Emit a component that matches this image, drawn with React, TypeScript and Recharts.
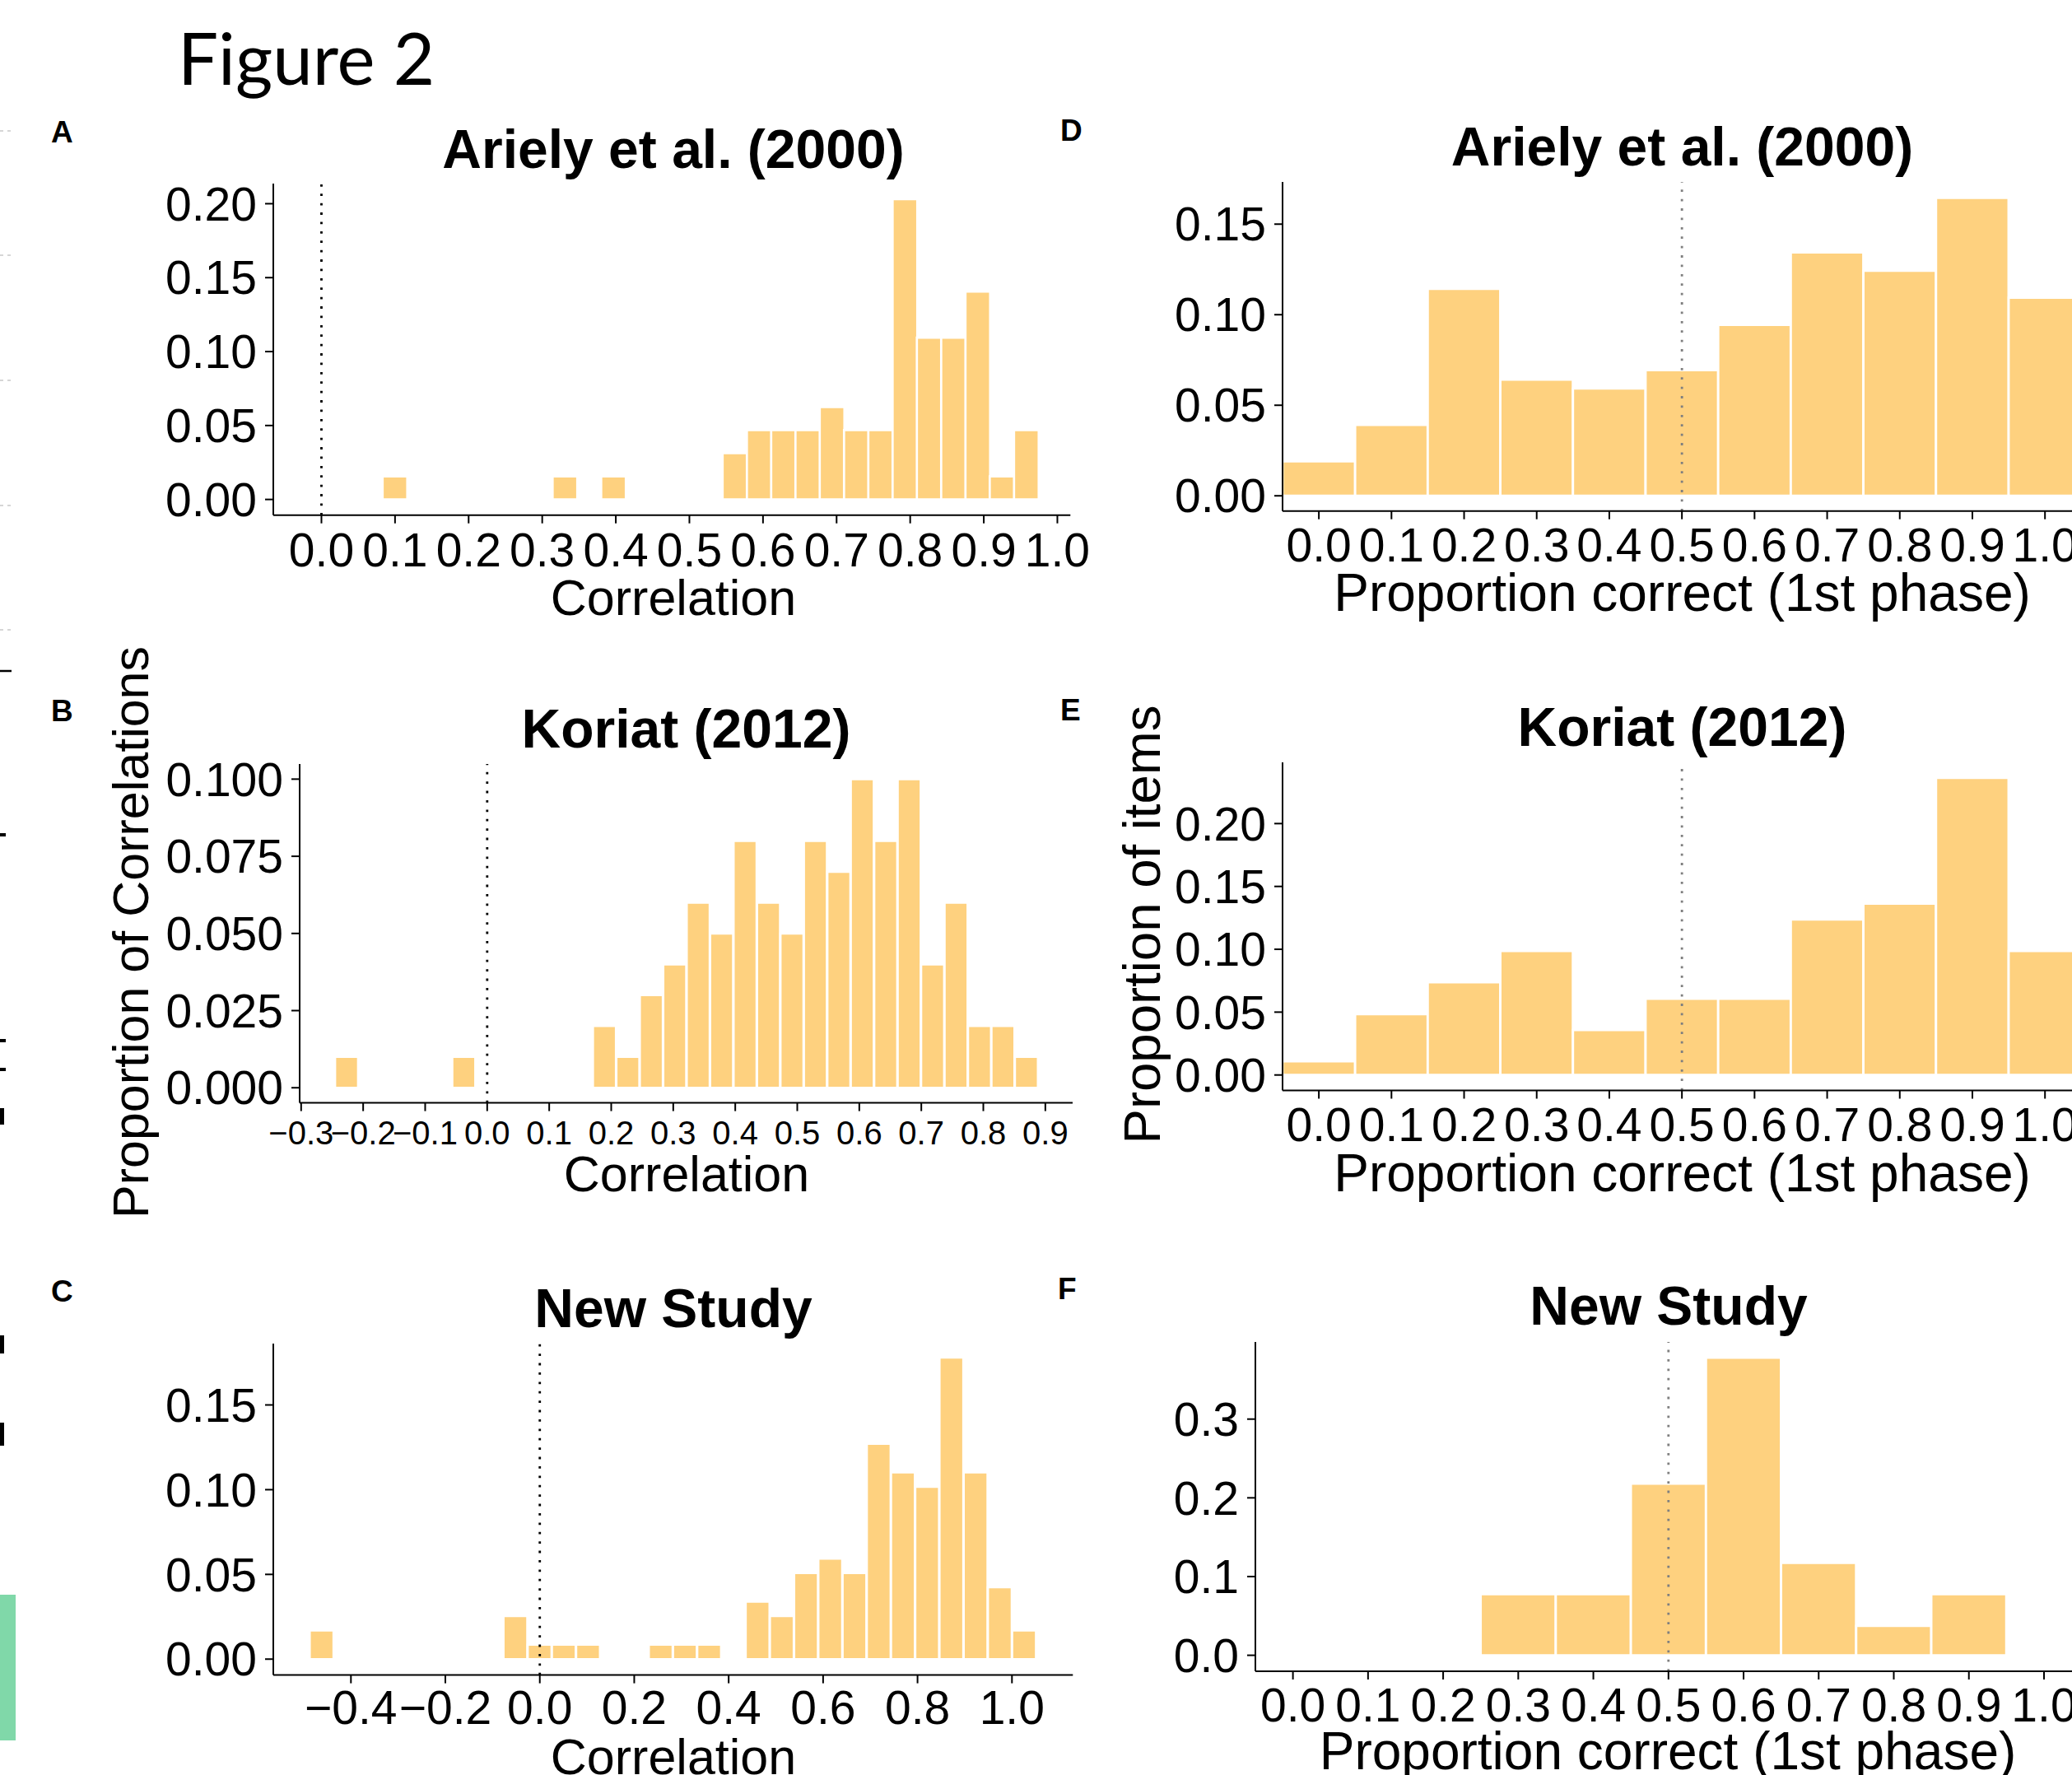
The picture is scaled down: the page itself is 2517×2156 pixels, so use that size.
import React from 'react';
import { BarChart, Bar, XAxis, YAxis, ReferenceLine } from 'recharts';

const FONT = '"Liberation Sans", Arial, Helvetica, sans-serif';
const BAR_FILL = '#FED17F';

// ---------- Panel A : Ariely et al. (2000) – correlations ----------
const aBins = [0.0996, 0.3306, 0.3966, 0.5616, 0.5946, 0.6276, 0.6606, 0.6936, 0.7266, 0.7596, 0.7926, 0.8256, 0.8586, 0.8916, 0.9246, 0.9576];
const aProps = [0.0156, 0.0156, 0.0156, 0.0313, 0.0469, 0.0469, 0.0469, 0.0625, 0.0469, 0.0469, 0.2031, 0.1094, 0.1094, 0.1406, 0.0156, 0.0469];
const aXTicks = [0, 0.1, 0.2, 0.3, 0.4, 0.5, 0.6, 0.7, 0.8, 0.9, 1.0];
const aYTicks = [0, 0.05, 0.1, 0.15, 0.2];

// ---------- Panel B : Koriat (2012) – correlations ----------
const bBins = [-0.2264, -0.0374, 0.1894, 0.2272, 0.265, 0.3028, 0.3406, 0.3784, 0.4162, 0.454, 0.4918, 0.5296, 0.5674, 0.6052, 0.643, 0.6808, 0.7186, 0.7564, 0.7942, 0.832, 0.8698];
const bProps = [0.01, 0.01, 0.02, 0.01, 0.03, 0.04, 0.06, 0.05, 0.08, 0.06, 0.05, 0.08, 0.07, 0.1, 0.08, 0.1, 0.04, 0.06, 0.02, 0.02, 0.01];
const bXTicks = [-0.3, -0.2, -0.1, 0, 0.1, 0.2, 0.3, 0.4, 0.5, 0.6, 0.7, 0.8, 0.9];
const bYTicks = [0, 0.025, 0.05, 0.075, 0.1];

// ---------- Panel C : New Study – correlations ----------
const cBins = [-0.4617, -0.0513, 0, 0.0513, 0.1026, 0.2565, 0.3078, 0.3591, 0.4617, 0.513, 0.5643, 0.6156, 0.6669, 0.7182, 0.7695, 0.8208, 0.8721, 0.9234, 0.9747, 1.026];
const cProps = [0.0169, 0.0254, 0.0085, 0.0085, 0.0085, 0.0085, 0.0085, 0.0085, 0.0339, 0.0254, 0.0508, 0.0593, 0.0508, 0.1271, 0.1102, 0.1017, 0.178, 0.1102, 0.0424, 0.0169];
const cXTicks = [-0.4, -0.2, 0, 0.2, 0.4, 0.6, 0.8, 1.0];
const cYTicks = [0, 0.05, 0.1, 0.15];

// ---------- Panel D : Ariely et al. (2000) – proportion correct ----------
const dBins = [0, 0.1, 0.2, 0.3, 0.4, 0.5, 0.6, 0.7, 0.8, 0.9, 1.0];
const dProps = [0.019, 0.0391, 0.1143, 0.0641, 0.0592, 0.0694, 0.0944, 0.1344, 0.1243, 0.1645, 0.1094];
const dXTicks = [0, 0.1, 0.2, 0.3, 0.4, 0.5, 0.6, 0.7, 0.8, 0.9, 1.0];
const dYTicks = [0, 0.05, 0.1, 0.15];

// ---------- Panel E : Koriat (2012) – proportion correct ----------
const eBins = [0, 0.1, 0.2, 0.3, 0.4, 0.5, 0.6, 0.7, 0.8, 0.9, 1.0];
const eProps = [0.0108, 0.0484, 0.0737, 0.0986, 0.0358, 0.0607, 0.0607, 0.1236, 0.1362, 0.2364, 0.0986];
const eXTicks = [0, 0.1, 0.2, 0.3, 0.4, 0.5, 0.6, 0.7, 0.8, 0.9, 1.0];
const eYTicks = [0, 0.05, 0.1, 0.15, 0.2];

// ---------- Panel F : New Study – proportion correct ----------
const fBins = [0.3, 0.4, 0.5, 0.6, 0.7, 0.8, 0.9];
const fProps = [0.0776, 0.0776, 0.2179, 0.378, 0.1173, 0.0374, 0.0776];
const fXTicks = [0, 0.1, 0.2, 0.3, 0.4, 0.5, 0.6, 0.7, 0.8, 0.9, 1.0];
const fYTicks = [0, 0.1, 0.2, 0.3];

const fmt = (d: number) => (v: number) => {
  const s = Math.abs(v) < 1e-9 ? (0).toFixed(d) : v.toFixed(d);
  return s.replace('-', '\u2212');
};

type PanelProps = {
  bins: number[];
  props: number[];
  xDomain: [number, number];
  yDomain: [number, number];
  xTicks: number[];
  yTicks: number[];
  xDec: number;
  yDec: number;
  left: number;
  top: number;
  bottom: number;
  right: number;
  refX: number;
  refColor: string;
  xTickSize: number;
  xTickMargin: number;
};

function Panel(p: PanelProps) {
  const yw = 220;
  const xh = 110;
  const mt = 40;
  const mr = 80;
  const width = p.right - p.left + yw + mr;
  const height = p.bottom - p.top + xh + mt;
  const data = p.bins.map((x, i) => ({ x, prop: p.props[i] }));
  const axisStyle = { stroke: '#000', strokeWidth: 2 };
  return (
    <div style={{ position: 'absolute', left: p.left - yw, top: p.top - mt, width, height }}>
      <BarChart
        width={width}
        height={height}
        data={data}
        margin={{ top: mt, right: mr, bottom: 0, left: 0 }}
        barCategoryGap={0}
        barGap={0}
      >
        <XAxis
          dataKey="x"
          type="number"
          domain={p.xDomain}
          allowDataOverflow
          ticks={p.xTicks}
          interval={0}
          tickFormatter={fmt(p.xDec)}
          height={xh}
          axisLine={axisStyle}
          tickLine={axisStyle}
          tickSize={10}
          tickMargin={p.xTickMargin}
          tick={{ fill: '#000', fontSize: p.xTickSize, fontFamily: FONT }}
        />
        <YAxis
          type="number"
          domain={p.yDomain}
          allowDataOverflow
          ticks={p.yTicks}
          interval={0}
          tickFormatter={fmt(p.yDec)}
          width={yw}
          axisLine={axisStyle}
          tickLine={axisStyle}
          tickSize={10}
          tickMargin={10}
          tick={{ fill: '#000', fontSize: 57, fontFamily: FONT }}
        />
        <Bar dataKey="prop" fill={BAR_FILL} stroke="#fff" strokeWidth={2.7} isAnimationActive={false} />
        <ReferenceLine x={p.refX} stroke={p.refColor} strokeWidth={2.8} strokeDasharray="2.8 8.6" />
      </BarChart>
    </div>
  );
}

export default function App() {
  const titleStyle = { fontFamily: FONT, fontWeight: 700 as const, fontSize: 66, fill: '#000' };
  const axisTitle = { fontFamily: FONT, fontSize: 61, fill: '#000' };
  const letter = { fontFamily: FONT, fontWeight: 700 as const, fontSize: 37, fill: '#000' };
  return (
    <div style={{ position: 'fixed', left: 0, top: 0, width: 2517, height: 2156, overflow: 'hidden', background: '#fff' }}>
      <Panel bins={aBins} props={aProps} xDomain={[-0.0654, 1.0177]} yDomain={[-0.0106, 0.2136]}
        xTicks={aXTicks} yTicks={aYTicks} xDec={1} yDec={2}
        left={331.7} top={223.3} bottom={626} right={1300} refX={0} refColor="#000" xTickSize={57} xTickMargin={12} />
      <Panel bins={bBins} props={bProps} xDomain={[-0.3024, 0.944]} yDomain={[-0.0049, 0.1049]}
        xTicks={bXTicks} yTicks={bYTicks} xDec={1} yDec={3}
        left={364} top={928.4} bottom={1340} right={1303} refX={0} refColor="#000" xTickSize={40} xTickMargin={12} />
      <Panel bins={cBins} props={cProps} xDomain={[-0.5644, 1.129]} yDomain={[-0.0094, 0.1862]}
        xTicks={cXTicks} yTicks={cYTicks} xDec={1} yDec={2}
        left={331.7} top={1631.7} bottom={2034.3} right={1303} refX={0} refColor="#000" xTickSize={57} xTickMargin={9} />
      <Panel bins={dBins} props={dProps} xDomain={[-0.05, 1.05]} yDomain={[-0.0084, 0.1733]}
        xTicks={dXTicks} yTicks={dYTicks} xDec={1} yDec={2}
        left={1558.3} top={221} bottom={620.7} right={2528.6} refX={0.5} refColor="#7f7f7f" xTickSize={57} xTickMargin={11} />
      <Panel bins={eBins} props={eProps} xDomain={[-0.05, 1.05]} yDomain={[-0.0123, 0.2487]}
        xTicks={eXTicks} yTicks={eYTicks} xDec={1} yDec={2}
        left={1558.3} top={926.1} bottom={1324.6} right={2528.6} refX={0.5} refColor="#7f7f7f" xTickSize={57} xTickMargin={11} />
      <Panel bins={fBins} props={fProps} xDomain={[-0.05, 1.05]} yDomain={[-0.0203, 0.398]}
        xTicks={fXTicks} yTicks={fYTicks} xDec={1} yDec={1}
        left={1525.3} top={1629.6} bottom={2029.6} right={2528.9} refX={0.5} refColor="#7f7f7f" xTickSize={57} xTickMargin={11} />

      <svg width={2517} height={2156} style={{ position: 'absolute', left: 0, top: 0, pointerEvents: 'none' }}>
        {/* left-edge fragments of the page */}
        {[159, 310, 462, 614, 765].map((y) => (
          <g key={y}>
            <line x1={0} x2={4} y1={y} y2={y} stroke="#c8c8c8" strokeWidth={1.5} />
            <line x1={9} x2={13} y1={y} y2={y} stroke="#c8c8c8" strokeWidth={1.5} />
          </g>
        ))}
        <line x1={0} x2={14} y1={815} y2={815} stroke="#000" strokeWidth={2.5} />
        <rect x={0} y={1012} width={7} height={4} fill="#000" />
        <rect x={0} y={1262} width={7} height={4} fill="#000" />
        <rect x={0} y={1297} width={7} height={4} fill="#000" />
        <rect x={0} y={1346} width={5} height={20} fill="#000" />
        <rect x={0} y={1622} width={5} height={22} fill="#000" />
        <rect x={0} y={1728} width={5} height={28} fill="#000" />
        <rect x={0} y={1937} width={19} height={177} fill="#80d8a9" />

        <text x={216} y={103} fontFamily="Lato, 'Open Sans', sans-serif" fontSize={87} fill="#000">Figure 2</text>

        <text x={62} y={173} {...letter}>A</text>
        <text x={62} y={876} {...letter}>B</text>
        <text x={62} y={1581} {...letter}>C</text>
        <text x={1288} y={171} {...letter}>D</text>
        <text x={1288} y={875} {...letter}>E</text>
        <text x={1285} y={1578} {...letter}>F</text>

        <text x={818} y={204} textAnchor="middle" {...titleStyle}>Ariely et al. (2000)</text>
        <text x={833.5} y={907.7} textAnchor="middle" {...titleStyle}>Koriat (2012)</text>
        <text x={818} y={1611.5} textAnchor="middle" {...titleStyle}>New Study</text>
        <text x={2043.5} y={201} textAnchor="middle" {...titleStyle}>Ariely et al. (2000)</text>
        <text x={2043.5} y={906.4} textAnchor="middle" {...titleStyle}>Koriat (2012)</text>
        <text x={2027} y={1609.3} textAnchor="middle" {...titleStyle}>New Study</text>

        <text x={818} y={746.6} textAnchor="middle" {...axisTitle}>Correlation</text>
        <text x={834} y={1447} textAnchor="middle" {...axisTitle}>Correlation</text>
        <text x={818} y={2154.5} textAnchor="middle" {...axisTitle}>Correlation</text>
        <text x={2043.5} y={741.7} textAnchor="middle" {...axisTitle} fontSize={64}>Proportion correct (1st phase)</text>
        <text x={2043.5} y={1447} textAnchor="middle" {...axisTitle} fontSize={64}>Proportion correct (1st phase)</text>
        <text x={2026} y={2149} textAnchor="middle" {...axisTitle} fontSize={64}>Proportion correct (1st phase)</text>

        <text transform="translate(180,1132.5) rotate(-90)" textAnchor="middle" {...axisTitle} fontSize={61}>Proportion of Correlations</text>
        <text transform="translate(1409,1123) rotate(-90)" textAnchor="middle" {...axisTitle} fontSize={63.5}>Proportion of items</text>
      </svg>
    </div>
  );
}
